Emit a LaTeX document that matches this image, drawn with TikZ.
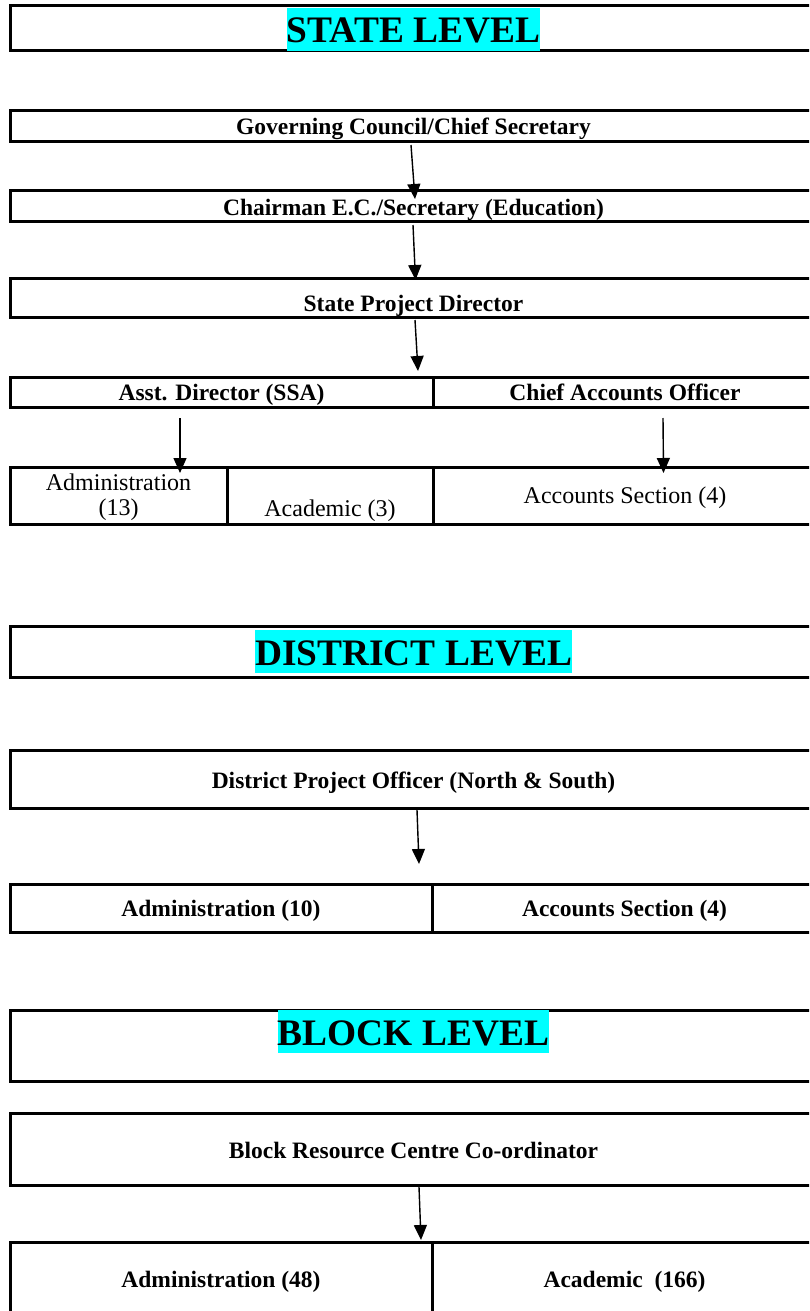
\documentclass[tikz,border=0pt]{standalone}
\usepackage{fontspec}
\setmainfont{Liberation Serif}
\usetikzlibrary{arrows.meta}
\definecolor{hl}{RGB}{0,255,255}
\begin{document}
\begin{tikzpicture}[x=1pt,y=-1pt,
  box/.style={draw, line width=3pt, inner sep=0pt, outer sep=0pt},
  lbl/.style={anchor=base, inner sep=0pt, font=\fontsize{23.5}{28}\selectfont\bfseries},
  lblr/.style={anchor=base, inner sep=0pt, font=\fontsize{24}{28}\selectfont},
  head/.style={anchor=base, fill=hl, inner sep=0pt, text height=35pt, text depth=8pt, font=\fontsize{37.4}{44}\selectfont\bfseries},
  arr/.style={line width=1.4pt, -{Triangle[length=15pt,width=13pt]}}]
\useasboundingbox (0,0) rectangle (809,1311);
\clip (0,0) rectangle (809,1311);

% ---------- STATE LEVEL ----------
\node[box, minimum width=807pt, minimum height=45pt] (state) at (413.5,28.5) {};
\node[head] (stateT) at (413.5,43) {STATE LEVEL};

\node[box, minimum width=807pt, minimum height=30pt] (gov) at (413.5,126) {};
\node[lbl] (govT) at (413.5,135) {Governing Council/Chief Secretary};

\node[box, minimum width=807pt, minimum height=31pt] (chair) at (413.5,205.5) {};
\node[lbl] (chairT) at (413.5,215) {Chairman E.C./Secretary (Education)};

\node[box, minimum width=807pt, minimum height=39pt] (spd) at (413.5,297.5) {};
\node[lbl] (spdT) at (413.5,311) {State Project Director};

\node[box, minimum width=423pt, minimum height=30pt] (asst) at (221.5,392) {};
\node[box, minimum width=384pt, minimum height=30pt] (cao) at (625,392) {};
\node[lbl] (asstT) at (221.5,400) {Asst. Director (SSA)};
\node[lbl] (caoT) at (625,400) {Chief Accounts Officer};

\node[box, minimum width=217pt, minimum height=57pt] (sadm) at (118.5,495.5) {};
\node[box, minimum width=206pt, minimum height=57pt] (sacad) at (330,495.5) {};
\node[box, minimum width=384pt, minimum height=57pt] (sacc) at (625,495.5) {};
\node[lblr] (sadmT1) at (118.5,490) {Administration};
\node[lblr] (sadmT2) at (118.5,515) {(13)};
\node[lblr] (sacadT) at (330,516) {Academic (3)};
\node[lblr] (saccT) at (625,503) {Accounts Section (4)};

% arrows (state)
\coordinate (a1s) at (411,145);  \coordinate (a1e) at (415,199);
\coordinate (a2s) at (413,225);  \coordinate (a2e) at (415.5,280);
\coordinate (a3s) at (415,320);  \coordinate (a3e) at (418,371);
\coordinate (a4s) at (180,418);  \coordinate (a4e) at (180,473);
\coordinate (a5s) at (663,418);  \coordinate (a5e) at (663.5,473);
\draw[arr] (a1s) -- (a1e);
\draw[arr] (a2s) -- (a2e);
\draw[arr] (a3s) -- (a3e);
\draw[arr] (a4s) -- (a4e);
\draw[arr] (a5s) -- (a5e);

% ---------- DISTRICT LEVEL ----------
\node[box, minimum width=807pt, minimum height=51pt] (district) at (413.5,651.5) {};
\node[head] (districtT) at (413.5,665) {DISTRICT LEVEL};

\node[box, minimum width=807pt, minimum height=58pt] (dpo) at (413.5,779) {};
\node[lbl] (dpoT) at (413.5,788) {District Project Officer (North \& South)};

\node[box, minimum width=422pt, minimum height=48pt] (dadm) at (221,908) {};
\node[box, minimum width=385pt, minimum height=48pt] (dacc) at (624.5,908) {};
\node[lbl] (dadmT) at (221,916) {Administration (10)};
\node[lbl] (daccT) at (624.5,916) {Accounts Section (4)};

\coordinate (a6s) at (417,810);  \coordinate (a6e) at (419,864);
\draw[arr] (a6s) -- (a6e);

% ---------- BLOCK LEVEL ----------
\node[box, minimum width=807pt, minimum height=71pt] (block) at (413.5,1045.5) {};
\node[head] (blockT) at (413.5,1045) {BLOCK LEVEL};

\node[box, minimum width=807pt, minimum height=72pt] (brc) at (413.5,1149) {};
\node[lbl] (brcT) at (413.5,1158) {Block Resource Centre Co-ordinator};

\node[box, minimum width=422pt, minimum height=98pt] (badm) at (221,1291) {};
\node[box, minimum width=385pt, minimum height=98pt] (bacad) at (624.5,1291) {};
\node[lbl] (badmT) at (221,1287) {Administration (48)};
\node[lbl] (bacadT) at (624.5,1287) {Academic\ \ (166)};

\coordinate (a7s) at (419,1187);  \coordinate (a7e) at (421,1240);
\draw[arr] (a7s) -- (a7e);
\end{tikzpicture}
\end{document}
